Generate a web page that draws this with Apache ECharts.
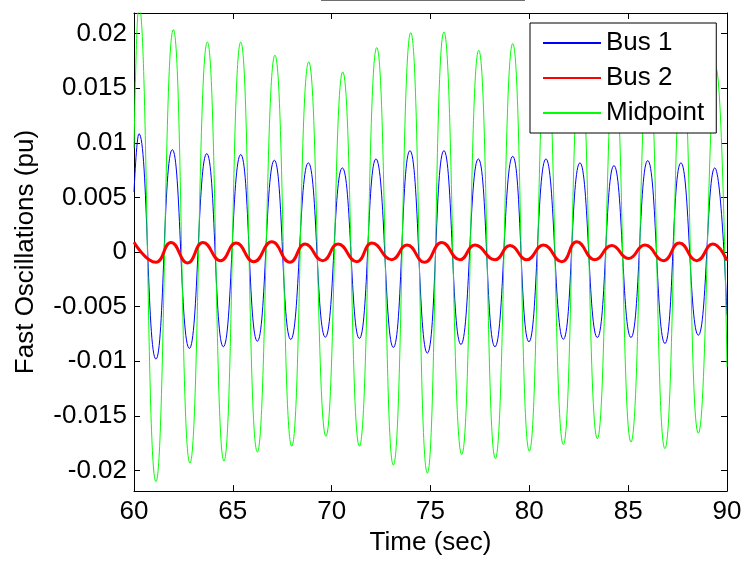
<!DOCTYPE html>
<html>
<head>
<meta charset="utf-8">
<script src="https://cdn.jsdelivr.net/npm/echarts@6/dist/echarts.min.js"></script>
<style>
html,body{margin:0;padding:0;background:#fff;}
#chart{width:745px;height:561px;}
</style>
</head>
<body>
<div id="chart"></div>
<script>
// Series: [time (sec), value (pu)] read at extrema from the reference
const seriesNames = ['Bus 1', 'Bus 2', 'Midpoint'];
const xTicks = [60, 65, 70, 75, 80, 85, 90];
const yTicks = [-0.02, -0.015, -0.01, -0.005, 0, 0.005, 0.01, 0.015, 0.02];

const bus1 = [
  [60.0, 0.0055], [60.25, 0.01084], [61.11, -0.00981], [61.94, 0.00938], [62.80, -0.00883],
  [63.68, 0.00902], [64.52, -0.00868], [65.40, 0.00893], [66.24, -0.00817], [67.10, 0.00841],
  [67.93, -0.00801], [68.82, 0.00817], [69.68, -0.0078], [70.54, 0.00771], [71.40, -0.00792],
  [72.24, 0.00853], [73.12, -0.00874], [73.96, 0.00929], [74.84, -0.00926], [75.68, 0.00929],
  [76.54, -0.00847], [77.42, 0.00853], [78.26, -0.00868], [79.16, 0.00877], [79.98, -0.00822],
  [80.84, 0.00853], [81.72, -0.00799], [82.56, 0.00817], [83.44, -0.00783], [84.28, 0.00792],
  [85.14, -0.00783], [85.99, 0.00838], [86.86, -0.00838], [87.67, 0.00817], [88.55, -0.00762],
  [89.38, 0.00771], [90.0, -0.0058]
];

const bus2 = [
  [60.0, 0.0009], [61.11, -0.00094], [61.87, 0.00088], [62.71, -0.001], [63.49, 0.00088],
  [64.38, -0.00079], [65.16, 0.00082], [66.06, -0.00088], [66.97, 0.00094], [67.89, -0.00094],
  [68.65, 0.00073], [69.55, -0.00079], [70.32, 0.00073], [71.27, -0.00088], [72.04, 0.00082],
  [73.04, -0.0007], [73.81, 0.00064], [74.70, -0.00094], [75.57, 0.00088], [76.49, -0.0007],
  [77.25, 0.00064], [78.26, -0.0007], [79.02, 0.0006], [79.87, -0.0007], [80.71, 0.00064],
  [81.64, -0.00088], [82.40, 0.00094], [83.32, -0.0007], [84.17, 0.0006], [85.01, -0.00058],
  [85.85, 0.00064], [86.78, -0.00079], [87.59, 0.00082], [88.47, -0.00079], [89.28, 0.00073],
  [90.0, -0.0008]
];

const midpoint = [
  [60.0, 0.0095], [60.25, 0.0226], [61.11, -0.02104], [61.99, 0.02037], [62.83, -0.01934],
  [63.71, 0.01924], [64.55, -0.01915], [65.40, 0.01924], [66.24, -0.01831], [67.13, 0.01803],
  [67.98, -0.01779], [68.84, 0.01742], [69.71, -0.01688], [70.56, 0.01651], [71.40, -0.01779],
  [72.28, 0.01873], [73.12, -0.01952], [74.00, 0.0201], [74.84, -0.02025], [75.68, 0.02016],
  [76.58, -0.01855], [77.44, 0.01849], [78.28, -0.01892], [79.16, 0.0191], [80.00, -0.01824],
  [80.86, 0.0188], [81.72, -0.01764], [82.58, 0.0178], [83.44, -0.0171], [84.30, 0.0172],
  [85.14, -0.0174], [86.02, 0.018], [86.86, -0.01801], [87.74, 0.0175], [88.55, -0.0166],
  [89.44, 0.01682], [90.0, -0.0105]
];

const FONT = 'Liberation Sans, Arial, sans-serif';
const chart = echarts.init(document.getElementById('chart'), null, {renderer: 'canvas'});

function fmt(v) {
  for (const t of yTicks) { if (Math.abs(t - v) < 1e-7) return String(Number(t.toFixed(4))); }
  return '';
}

const axisLine = {show: true, onZero: false, lineStyle: {color: '#000', width: 1}};
const axisTick = {show: true, inside: true, length: 6, lineStyle: {color: '#000', width: 1}};

chart.setOption({
  animation: false,
  backgroundColor: '#fff',
  grid: {left: 134, right: 18, top: 13, bottom: 68, containLabel: false},
  legend: {
    orient: 'vertical', left: 530, top: 23,
    itemWidth: 58, itemHeight: 14, itemGap: 9,
    padding: [7, 12, 7, 12],
    backgroundColor: '#fff', borderColor: '#000', borderWidth: 1, borderRadius: 0,
    itemStyle: {opacity: 0},
    textStyle: {fontSize: 26, fontFamily: FONT, color: '#000'},
    data: seriesNames
  },
  xAxis: [
    {type: 'value', min: xTicks[0], max: xTicks[xTicks.length - 1], interval: 5,
     axisLine: axisLine, axisTick: axisTick, splitLine: {show: false},
     axisLabel: {fontSize: 26, fontFamily: FONT, color: '#000', margin: 8},
     name: 'Time (sec)', nameLocation: 'middle', nameGap: 37,
     nameTextStyle: {fontSize: 26, fontFamily: FONT, color: '#000'}},
    {type: 'value', position: 'top', min: xTicks[0], max: xTicks[xTicks.length - 1], interval: 5,
     axisLine: axisLine, axisTick: axisTick, splitLine: {show: false}, axisLabel: {show: false}}
  ],
  yAxis: [
    {type: 'value', min: -0.0219, max: 0.0219, splitNumber: 8,
     axisLine: axisLine, axisTick: axisTick, splitLine: {show: false},
     axisLabel: {fontSize: 26, fontFamily: FONT, color: '#000', margin: 7, formatter: fmt,
                 showMinLabel: false, showMaxLabel: false},
     name: 'Fast Oscillations (pu)', nameLocation: 'middle', nameGap: 95,
     nameTextStyle: {fontSize: 26, fontFamily: FONT, color: '#000'}},
    {type: 'value', position: 'right', min: -0.0219, max: 0.0219, splitNumber: 8,
     axisLine: axisLine, axisTick: axisTick, splitLine: {show: false}, axisLabel: {show: false}}
  ],
  series: [
    {name: seriesNames[0], type: 'line', data: bus1, smooth: 0.5, symbol: 'none', clip: true,
     lineStyle: {color: '#0000ff', width: 1}, itemStyle: {color: '#0000ff'}, z: 2},
    {name: seriesNames[1], type: 'line', data: bus2, smooth: 0.5, symbol: 'none', clip: true,
     lineStyle: {color: '#ff0000', width: 3}, itemStyle: {color: '#ff0000'}, z: 4},
    {name: seriesNames[2], type: 'line', data: midpoint, smooth: 0.5, symbol: 'none', clip: true,
     lineStyle: {color: '#00ff00', width: 1}, itemStyle: {color: '#00ff00'}, z: 3}
  ],
  graphic: [
    {type: 'line', shape: {x1: 321, y1: 0.5, x2: 525, y2: 0.5}, style: {stroke: '#6e6e6e', lineWidth: 1}, silent: true}
  ]
});
</script>
</body>
</html>
